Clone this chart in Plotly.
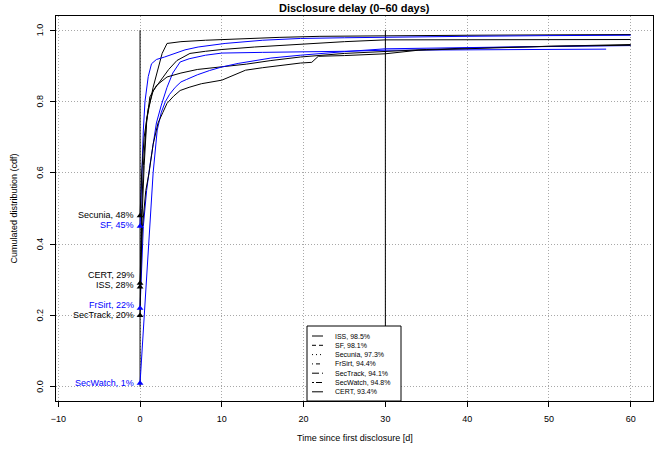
import plotly.graph_objects as go

# ---------------- data ----------------
names = ["ISS", "SF", "Secunia", "FrSirt", "SecTrack", "SecWatch", "CERT"]
colors = ["black", "blue", "black", "blue", "black", "blue", "black"]
pct30 = ["98.5%", "98.1%", "97.3%", "94.4%", "94.1%", "94.8%", "93.4%"]
dashes = ["solid", "4px,3px", "1px,3px", "1px,3px,4px,3px", "7px,3px", "2px,2px,6px,2px", "solid"]
start_pct = ["28%", "45%", "48%", "22%", "20%", "1%", "29%"]

iss_x = [0, 0.2, 0.4, 0.8, 1.6, 2.3, 2.7, 3.3, 5, 8, 12, 17, 22, 30, 40, 50, 60]
iss_y = [0.28, 0.50, 0.62, 0.75, 0.84, 0.90, 0.935, 0.963, 0.968, 0.972, 0.976, 0.980, 0.983, 0.985, 0.986, 0.987, 0.988]

sf_x = [0, 0.2, 0.4, 0.6, 1.0, 1.4, 2.0, 3.0, 4.2, 5.5, 7.1, 10.4, 15, 19.6, 25, 30, 40, 50, 60]
sf_y = [0.45, 0.60, 0.72, 0.80, 0.87, 0.906, 0.918, 0.925, 0.935, 0.945, 0.953, 0.963, 0.972, 0.977, 0.979, 0.981, 0.983, 0.985, 0.986]

secunia_x = [0, 0.2, 0.5, 1.0, 1.6, 2.5, 3.5, 4.5, 6.1, 8, 10, 14, 19.6, 25, 30, 40, 50, 60]
secunia_y = [0.48, 0.60, 0.70, 0.78, 0.83, 0.86, 0.89, 0.915, 0.935, 0.941, 0.946, 0.953, 0.961, 0.968, 0.973, 0.973, 0.974, 0.974]

frsirt_x = [0, 0.4, 0.8, 1.2, 2.0, 2.6, 3.3, 4.0, 4.9, 6, 8, 10, 15, 19.6, 25, 30, 40, 50, 57]
frsirt_y = [0.22, 0.45, 0.55, 0.62, 0.74, 0.79, 0.84, 0.88, 0.911, 0.92, 0.93, 0.936, 0.938, 0.939, 0.941, 0.944, 0.945, 0.946, 0.947]

sectrack_x = [0, 0.2, 0.5, 0.8, 1.2, 2.0, 3.3, 5, 7, 10, 13, 16, 19.6, 25, 30, 35, 40, 50, 60]
sectrack_y = [0.20, 0.45, 0.62, 0.74, 0.813, 0.845, 0.869, 0.88, 0.89, 0.897, 0.905, 0.915, 0.925, 0.935, 0.941, 0.946, 0.950, 0.956, 0.960]

secwatch_x = [0, 1.3, 1.6, 2.1, 2.6, 3.1, 3.6, 4.3, 5.0, 5.7, 7, 8.5, 10, 12, 14, 16, 19.6, 22, 25, 30, 35, 45, 60]
secwatch_y = [0.01, 0.47, 0.60, 0.72, 0.77, 0.80, 0.82, 0.84, 0.855, 0.862, 0.875, 0.887, 0.897, 0.907, 0.915, 0.922, 0.930, 0.935, 0.940, 0.948, 0.950, 0.953, 0.957]

cert_x = [0, 0.3, 0.7, 1.1, 1.6, 2.2, 2.8, 3.3, 4.1, 4.9, 6, 7.5, 10, 11.5, 12.9, 15, 17.5, 19.6, 21, 21.8, 25, 30, 34, 40, 47, 50, 60]
cert_y = [0.29, 0.45, 0.55, 0.60, 0.68, 0.74, 0.77, 0.795, 0.815, 0.831, 0.84, 0.85, 0.86, 0.875, 0.888, 0.895, 0.903, 0.908, 0.910, 0.927, 0.929, 0.934, 0.944, 0.948, 0.952, 0.955, 0.958]

xs = [iss_x, sf_x, secunia_x, frsirt_x, sectrack_x, secwatch_x, cert_x]
ys = [iss_y, sf_y, secunia_y, frsirt_y, sectrack_y, secwatch_y, cert_y]

# label y positions (offset to avoid overlap)
label_y = [0.285, 0.453, 0.483, 0.229, 0.202, 0.011, 0.314]

x_ticks = [-10, 0, 10, 20, 30, 40, 50, 60]
x_ticklabels = ["\u221210", "0", "10", "20", "30", "40", "50", "60"]
y_ticks = [0.0, 0.2, 0.4, 0.6, 0.8, 1.0]
y_ticklabels = ["0.0", "0.2", "0.4", "0.6", "0.8", "1.0"]

# ---------------- layout geometry ----------------
W, H = 668, 451
L, R, T, B = 56, 15, 16, 50
PW, PH = W - L - R, H - T - B
XR = [-10.28, 62.73]
YR = [-0.04, 1.04]


def px2x(px):
    return XR[0] + (px - L) / PW * (XR[1] - XR[0])


def py2y(py):
    return YR[1] - (py - T) / PH * (YR[1] - YR[0])


FONT = "Liberation Sans, Arial, Helvetica, sans-serif"

fig = go.Figure()

for i in range(len(names)):
    fig.add_trace(go.Scatter(x=xs[i], y=ys[i], mode="lines",
                             line=dict(color=colors[i], width=1),
                             showlegend=False, hoverinfo="skip"))
for i in range(len(names)):
    fig.add_trace(go.Scatter(x=[xs[i][0]], y=[ys[i][0]], mode="markers",
                             marker=dict(symbol="triangle-up", size=6, color=colors[i]),
                             showlegend=False, hoverinfo="skip"))

annotations = []
for i in range(len(names)):
    annotations.append(dict(x=px2x(136), y=label_y[i], xref="x", yref="y",
                            text=f"{names[i]}, {start_pct[i]}", showarrow=False,
                            xanchor="right", yanchor="middle",
                            font=dict(family=FONT, size=9, color=colors[i])))

# rotated y tick labels (R style)
for v, t in zip(y_ticks, y_ticklabels):
    annotations.append(dict(x=(40 - L) / PW, y=v, xref="paper", yref="y",
                            text=t, showarrow=False, textangle=-90,
                            xanchor="center", yanchor="middle",
                            font=dict(family=FONT, size=9, color="black")))

shapes = [
    dict(type="line", x0=0, x1=0, y0=0, y1=1, xref="x", yref="y",
         line=dict(color="black", width=1), layer="between"),
    dict(type="line", x0=30, x1=30, y0=0, y1=1, xref="x", yref="y",
         line=dict(color="black", width=1), layer="between"),
    # legend box
    dict(type="rect", x0=px2x(307), x1=px2x(401), y0=YR[0], y1=py2y(326),
         xref="x", yref="y", fillcolor="white", line=dict(color="black", width=1),
         layer="above"),
]

row_py0, row_dy = 336, 9.3
for i in range(len(names)):
    yy = py2y(row_py0 + i * row_dy)
    shapes.append(dict(type="line", x0=px2x(312), x1=px2x(323), y0=yy, y1=yy,
                       xref="x", yref="y", line=dict(color="black", width=1, dash=dashes[i]),
                       layer="above"))
    annotations.append(dict(x=px2x(333), y=yy, xref="x", yref="y",
                            text=f"{names[i]}, {pct30[i]}", showarrow=False,
                            xanchor="left", yanchor="middle",
                            font=dict(family=FONT, size=7, color="black")))

# titles
annotations.append(dict(x=0.5, y=(H - B - 8) / PH, xref="paper", yref="paper",
                        text="<b>Disclosure delay (0\u201360 days)</b>", showarrow=False,
                        xanchor="center", yanchor="middle",
                        font=dict(family=FONT, size=11, color="black")))
annotations.append(dict(x=0.5, y=(H - B - 438) / PH, xref="paper", yref="paper",
                        text="Time since first disclosure [d]", showarrow=False,
                        xanchor="center", yanchor="middle",
                        font=dict(family=FONT, size=9, color="black")))
annotations.append(dict(x=(13 - L) / PW, y=0.5, xref="paper", yref="paper",
                        text="Cumulated distribution (cdf)", showarrow=False, textangle=-90,
                        xanchor="center", yanchor="middle",
                        font=dict(family=FONT, size=9, color="black")))

GRID = dict(showgrid=True, gridcolor="#a8a8a8", griddash="1px,2px", gridwidth=1)

fig.update_layout(
    width=W, height=H,
    margin=dict(l=L, r=R, t=T, b=B, pad=0),
    plot_bgcolor="white", paper_bgcolor="white",
    font=dict(family=FONT, size=9, color="black"),
    shapes=shapes, annotations=annotations,
    xaxis=dict(range=XR, tickmode="array", tickvals=x_ticks, ticktext=x_ticklabels,
               ticks="outside", ticklen=5, tickcolor="black", tickwidth=1,
               showline=True, mirror=True, linecolor="black", linewidth=1,
               zeroline=False, ticklabelstandoff=4,
               tickfont=dict(family=FONT, size=9), **GRID),
    yaxis=dict(range=YR, tickmode="array", tickvals=y_ticks, showticklabels=False,
               ticks="outside", ticklen=5, tickcolor="black", tickwidth=1,
               showline=True, mirror=True, linecolor="black", linewidth=1,
               zeroline=False, **GRID),
)

fig.write_html("out.html")
